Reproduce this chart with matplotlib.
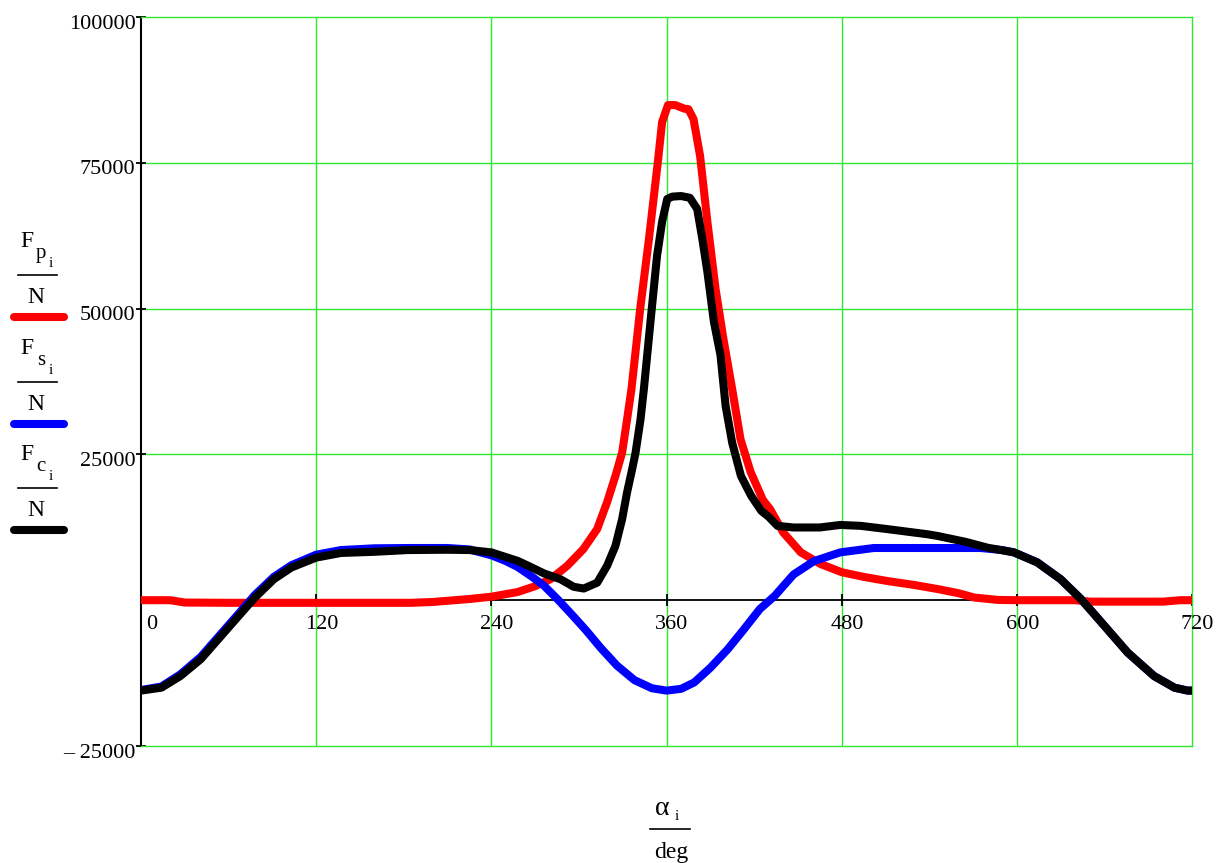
import matplotlib
matplotlib.use("Agg")
import matplotlib.pyplot as plt
from matplotlib.lines import Line2D

# ---- data (crank angle in degrees, forces in newtons) ----
alpha_p = [0, 20, 30, 60, 100, 150, 185, 200, 225, 240, 258, 270, 280.5, 292, 303, 312.5,
           319.3, 325, 329.6, 333, 336, 342, 348, 354, 357, 361, 366, 372, 375, 378.5,
           383, 388, 393.6, 399, 405, 410.7, 417.6, 426, 431, 440, 452, 465.6, 480,
           495, 511, 530, 546, 560, 571, 587, 600, 640, 650, 700, 712, 720]
Fp = [0, 0, -400, -450, -450, -450, -450, -300, 200, 600, 1400, 2400, 3600, 5900, 8750, 12200,
      16800, 21300, 25300, 31000, 36200, 50000, 62000, 75000, 82000, 84900, 84900, 84300,
      84200, 82500, 76200, 64900, 53400, 44800, 36200, 27600, 22000, 17200, 15600, 11600, 8200,
      6200, 4800, 4000, 3300, 2600, 1900, 1200, 450, 50, 0, 0, -250, -250, 0, 0]

alpha_s = [0, 14, 27, 41, 55, 69, 78, 91, 103, 120, 137, 160, 183, 210, 225, 240, 250, 258,
           268, 276, 286, 296, 305, 315, 326, 338, 350, 360, 370, 379, 390, 402, 413, 424,
           434, 447, 461, 479, 502, 575, 590, 598, 614, 630, 644, 660, 676, 694, 708, 717, 720]
Fs = [-15400, -14800, -12700, -9700, -5700, -1700, 900, 4000, 6000, 7800, 8600, 8900, 8950,
      8950, 8700, 7700, 6700, 5700, 4000, 2500, 0, -2700, -5200, -8200, -11200, -13700,
      -15100, -15500, -15200, -14100, -11600, -8400, -5000, -1500, 700, 4400, 6700, 8200,
      8950, 8950, 8600, 8200, 6500, 3600, 200, -4400, -9000, -13000, -15000, -15500, -15500]

alpha_c = [0, 14, 27, 41, 55, 69, 78, 91, 103, 120, 137, 160, 183, 210, 225, 240, 258, 267,
           276, 287.3, 296.4, 303.3, 312.5, 319.3, 325, 329.6, 333, 336.5, 338.8, 342.2, 344.5,
           349, 353.5, 357, 360.5, 364, 370, 376, 381, 384.5, 388, 392.5, 397, 400.5, 405,
           411, 418, 425, 430, 436, 447, 465, 479, 493, 511, 539, 546, 565, 580, 598, 614,
           630, 644, 660, 676, 694, 708, 717, 720]
Fc = [-15500, -15000, -13000, -10100, -6100, -2100, 450, 3600, 5600, 7300, 8100, 8300, 8600,
      8650, 8600, 8200, 6750, 5700, 4600, 3600, 2300, 2000, 3000, 5900, 9300, 13900, 18500,
      22500, 25300, 31000, 36200, 47700, 59000, 64900, 68800, 69200, 69300, 69000, 67100,
      62000, 56300, 47700, 42000, 33300, 27000, 21300, 17900, 15300, 14300, 12750, 12470,
      12470, 12900, 12750, 12200, 11300, 11000, 10000, 9000, 8200, 6470, 3600, 170, -4400,
      -9000, -13000, -15000, -15500, -15500]

x_ticks = [0, 120, 240, 360, 480, 600, 720]
y_ticks = [100000, 75000, 50000, 25000, -25000]
y_tick_labels = ["100000", "75000", "50000", "25000", "\u2013 25000"]

W, H = 1219, 863
SERIF = "Liberation Serif"
GRID = "#30e830"
LW = 5.8

fig = plt.figure(figsize=(W / 100, H / 100), dpi=100)
fig.patch.set_facecolor("white")

L, R, T, B = 141, 1192, 17, 746
ax = fig.add_axes([L / W, 1 - B / H, (R - L) / W, (B - T) / H])
ax.set_xlim(0, 720)
ax.set_ylim(-25000, 100000)

# frame: black left edge, green elsewhere
for side in ("top", "right", "bottom"):
    ax.spines[side].set_color(GRID)
    ax.spines[side].set_linewidth(1.0)
ax.spines["left"].set_color("black")
ax.spines["left"].set_linewidth(1.5)

ax.set_xticks([])
ax.set_yticks([])

# grid
for gx in x_ticks[1:-1]:
    ax.axvline(gx, color=GRID, lw=1.0, zorder=1)
for gy in (25000, 50000, 75000):
    ax.axhline(gy, color=GRID, lw=1.0, zorder=1)

# zero line with tick marks
ax.axhline(0, color="black", lw=1.3, zorder=2)
ax.plot(x_ticks, [0] * len(x_ticks), ls="none", marker="|", ms=8, mew=1.3,
        color="black", zorder=2, clip_on=False)

# y tick marks on the left edge
ax.plot([0] * len(y_ticks), y_ticks, ls="none", marker="_", ms=7, mew=1.3,
        color="black", zorder=2, clip_on=False)

# curves
ax.plot(alpha_p, Fp, color="#ff0000", lw=LW, solid_joinstyle="round",
        solid_capstyle="round", zorder=3)
ax.plot(alpha_s, Fs, color="#0000ff", lw=LW, solid_joinstyle="round",
        solid_capstyle="round", zorder=4)
ax.plot(alpha_c, Fc, color="#000000", lw=LW, solid_joinstyle="round",
        solid_capstyle="round", zorder=5)

# tick labels
for v, lab in zip(y_ticks, y_tick_labels):
    ax.annotate(lab, xy=(0, v), xycoords=("axes fraction", "data"),
                xytext=(-5.5, -11.5), textcoords="offset pixels",
                ha="right", va="baseline", fontsize=16, family=SERIF)
for v in x_ticks:
    dx = 11 if v == 0 else 5.5
    ax.annotate(str(v), xy=(v, 0), xycoords="data",
                xytext=(dx, -29), textcoords="offset pixels",
                ha="center", va="baseline", fontsize=16, family=SERIF,
                annotation_clip=False)


def fx(px):
    return px / W


def fy(py):
    return 1 - py / H


def ftext(px, py, s, size, **kw):
    fig.text(fx(px), fy(py), s, fontsize=size, family=SERIF,
             ha=kw.pop("ha", "center"), va=kw.pop("va", "baseline"), **kw)


def fline(x0, x1, py, color="black", lw=1.2, **kw):
    fig.add_artist(Line2D([fx(x0), fx(x1)], [fy(py), fy(py)], color=color, lw=lw,
                          transform=fig.transFigure, **kw))


# legend entries: F_{x_i} / N with a line sample
legend_items = [("p", "#ff0000", 0), ("s", "#0000ff", 107), ("c", "#000000", 213)]
for sub, col, off in legend_items:
    ftext(27, 247 + off, "F", 17)
    ftext(41, 258 + off, sub, 15)
    ftext(51, 267 + off, "i", 11)
    fline(18, 57, 275 + off)
    ftext(36, 303 + off, "N", 17)
    fline(14, 64, 317 + off, color=col, lw=LW, solid_capstyle="round")

# x-axis label: alpha_i / deg
ftext(662, 815, "\u03b1", 20)
ftext(677, 820, "i", 11)
fline(650, 690, 829)
ftext(671, 858, "deg", 17)

fig.savefig("out.png", dpi=100, facecolor="white")
